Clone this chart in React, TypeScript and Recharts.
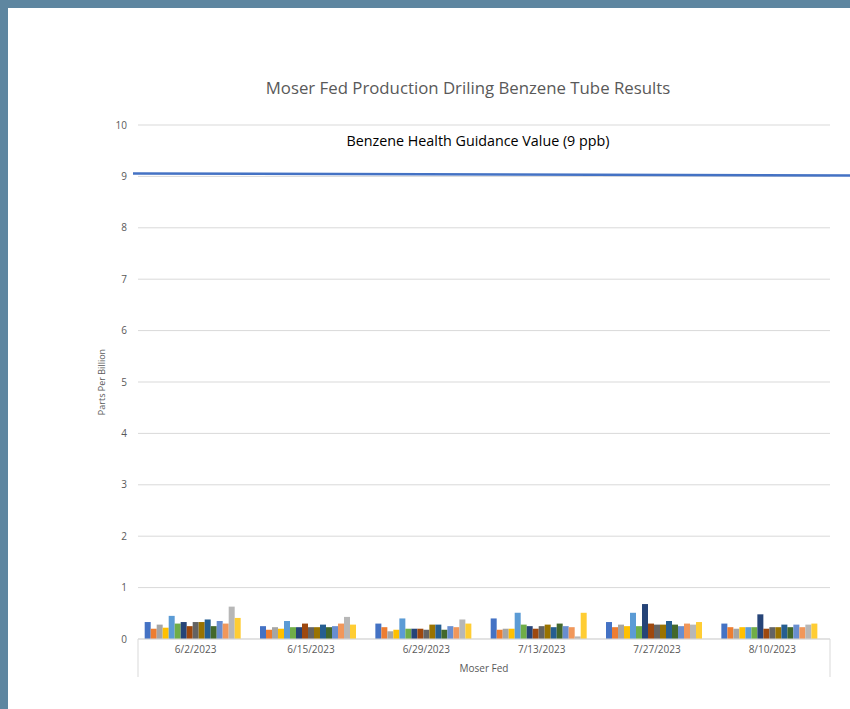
import { BarChart, Bar, XAxis, YAxis, CartesianGrid, ReferenceLine } from "recharts"

const dates = ["6/2/2023", "6/15/2023", "6/29/2023", "7/13/2023", "7/27/2023", "8/10/2023"]

const tubes = [
  "Tube 1", "Tube 2", "Tube 3", "Tube 4", "Tube 5", "Tube 6", "Tube 7", "Tube 8",
  "Tube 9", "Tube 10", "Tube 11", "Tube 12", "Tube 13", "Tube 14", "Tube 15", "Tube 16",
]

// ppb per tube, one array per sampling date
const jun02 = [0.33, 0.2, 0.28, 0.22, 0.45, 0.3, 0.33, 0.25, 0.33, 0.33, 0.38, 0.25, 0.35, 0.3, 0.63, 0.41]
const jun15 = [0.25, 0.18, 0.23, 0.2, 0.35, 0.23, 0.23, 0.3, 0.23, 0.23, 0.28, 0.23, 0.25, 0.3, 0.43, 0.28]
const jun29 = [0.3, 0.23, 0.15, 0.18, 0.4, 0.2, 0.2, 0.2, 0.18, 0.28, 0.28, 0.18, 0.25, 0.23, 0.38, 0.3]
const jul13 = [0.4, 0.18, 0.2, 0.2, 0.51, 0.28, 0.25, 0.2, 0.25, 0.28, 0.23, 0.3, 0.25, 0.23, 0.05, 0.51]
const jul27 = [0.33, 0.23, 0.28, 0.25, 0.51, 0.25, 0.68, 0.3, 0.28, 0.28, 0.35, 0.28, 0.25, 0.3, 0.28, 0.33]
const aug10 = [0.3, 0.23, 0.2, 0.23, 0.23, 0.23, 0.48, 0.2, 0.23, 0.23, 0.28, 0.23, 0.28, 0.23, 0.28, 0.3]

const yTicks = [0, 1, 2, 3, 4, 5, 6, 7, 8, 9, 10]
const guidanceValue = 9

const colors = [
  "#4472C4", "#ED7D31", "#A5A5A5", "#FFC000", "#5B9BD5", "#70AD47", "#264478", "#9E480E",
  "#636363", "#997300", "#255E91", "#43682B", "#698ED0", "#F1975A", "#B7B7B7", "#FFCD33",
]

const rows = [jun02, jun15, jun29, jul13, jul27, aug10]
const chartData = dates.map((date, i) => {
  const row: Record<string, string | number> = { date }
  tubes.forEach((t, j) => {
    row[t] = rows[i][j]
  })
  return row
})

const font = "'Open Sans', sans-serif"
const grey = "#595959"

function XLabel({ viewBox }: any) {
  const { x, y, width } = viewBox
  return (
    <g>
      <line x1={x} y1={y} x2={x} y2={y + 38} stroke="#d9d9d9" />
      <line x1={x + width} y1={y} x2={x + width} y2={y + 38} stroke="#d9d9d9" />
      <text x={x + width / 2} y={y + 33} textAnchor="middle" fontSize={10} fill={grey} fontFamily={font}>
        Moser Fed
      </text>
    </g>
  )
}

function YLabel({ viewBox }: any) {
  const { x, y, height } = viewBox
  const cx = x - 5
  const cy = y + height / 2
  return (
    <text
      x={cx}
      y={cy}
      transform={`rotate(-90 ${cx} ${cy})`}
      textAnchor="middle"
      dominantBaseline="middle"
      fontSize={9}
      fill={grey}
      fontFamily={font}
    >
      Parts Per Billion
    </text>
  )
}

export default function App() {
  return (
    <div style={{ position: "relative", width: 842, height: 701, background: "#fff" }}>
      <style>{"body { background: #5e86a0; margin: 8px 0 0 8px; overflow: hidden; }"}</style>
      <div
        style={{
          position: "absolute",
          left: 0,
          top: 69,
          width: 920,
          textAlign: "center",
          fontFamily: font,
          fontSize: 16.8,
          color: grey,
          lineHeight: "22px",
        }}
      >
        Moser Fed Production Driling Benzene Tube Results
      </div>
      <div
        style={{
          position: "absolute",
          left: 0,
          top: 123,
          width: 940,
          textAlign: "center",
          fontFamily: font,
          fontSize: 14.3,
          color: "#000",
          lineHeight: "20px",
          zIndex: 2,
        }}
      >
        Benzene Health Guidance Value (9 ppb)
      </div>
      <BarChart
        width={842}
        height={701}
        data={chartData}
        margin={{ top: 117, right: 20, left: 100, bottom: 25 }}
        barCategoryGap="5.8%"
        barGap={0}
      >
        <CartesianGrid vertical={false} stroke="#d9d9d9" />
        <XAxis
          dataKey="date"
          height={45}
          stroke="#d9d9d9"
          tickLine={false}
          tickSize={0}
          tickMargin={7}
          tick={{ fontSize: 10, fill: grey, fontFamily: font }}
          label={<XLabel />}
        />
        <YAxis
          width={30}
          domain={[0, 10]}
          ticks={yTicks}
          axisLine={false}
          tickLine={false}
          tickSize={0}
          tickMargin={11}
          tick={{ fontSize: 10, fill: grey, fontFamily: font }}
          label={<YLabel />}
        />
        {tubes.map((t, i) => (
          <Bar key={t} dataKey={t} fill={colors[i]} isAnimationActive={false} />
        ))}
        <ReferenceLine
          y={guidanceValue}
          stroke="#4472C4"
          strokeWidth={2.5}
          shape={(p: any) => (
            <line x1={p.x1 - 5} y1={p.y1 - 3} x2={842} y2={p.y2 - 1} stroke="#4472C4" strokeWidth={2.5} />
          )}
        />
      </BarChart>
    </div>
  )
}
